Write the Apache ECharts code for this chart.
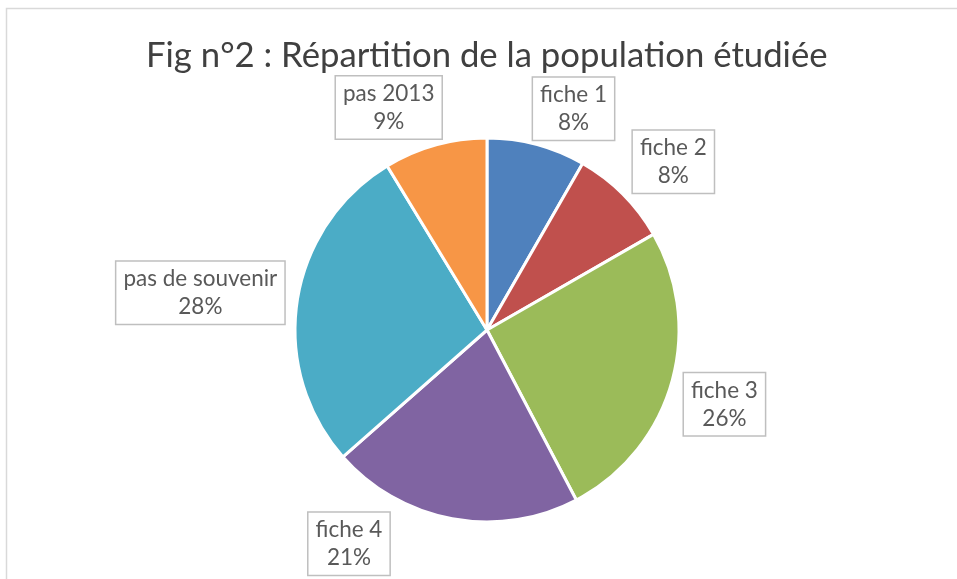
<!DOCTYPE html>
<html><head><meta charset="utf-8">
<script src="https://cdn.jsdelivr.net/npm/echarts@6/dist/echarts.min.js"></script>
<style>html,body{margin:0;padding:0;background:#fff}#c{width:957px;height:579px}</style>
</head><body><div id="c"></div>
<script>
const categories = ["fiche 1","fiche 2","fiche 3","fiche 4","pas de souvenir","pas 2013"];
const values = [8.3, 8.4, 25.6, 21.2, 27.8, 8.7];
const colors = ["#4F81BD","#C0504D","#9BBB59","#8064A2","#4BACC6","#F79646"];
const titleText = "Fig n°2 : Répartition de la population étudiée";

// label nudges (Excel "best fit" placement)
const labelShift = [[-11,-26],[-11,-40],[-2,18],[-56,15],[2,-7],[14,-28]];

const total = values.reduce((a,b)=>a+b,0);
const chart = echarts.init(document.getElementById('c'));
chart.setOption({
  animation:false,
  graphic:[{type:'rect',shape:{x:6.5,y:8.5,width:960,height:600},style:{fill:'#fff',stroke:'#d9d9d9',lineWidth:1.5},z:-10}],
  title:{text:titleText,left:141,top:33,textStyle:{fontFamily:'Lato',fontWeight:'normal',fontSize:34.7,color:'#404040'}},
  series:[{
    type:'pie',
    center:[487,330],
    radius:[0,192],
    startAngle:90,
    clockwise:true,
    data:categories.map((c,i)=>({name:c,value:values[i],itemStyle:{color:colors[i]}})),
    itemStyle:{borderColor:'#fff',borderWidth:3},
    label:{
      show:true,position:'outside',
      formatter:p=>'{t|'+p.name+'}\n{t|'+Math.round(p.value/total*100)+'%}',
      rich:{t:{fontFamily:'Lato',fontSize:22.5,color:'#595959',lineHeight:28,align:'center'}},
      backgroundColor:'#fff',borderColor:'#bfbfbf',borderWidth:1.5,padding:[3,7,3,7]
    },
    labelLine:{show:false,length:10,length2:0},
    labelLayout:p=>({dx:labelShift[p.dataIndex][0],dy:labelShift[p.dataIndex][1]})
  }]
});
</script></body></html>
